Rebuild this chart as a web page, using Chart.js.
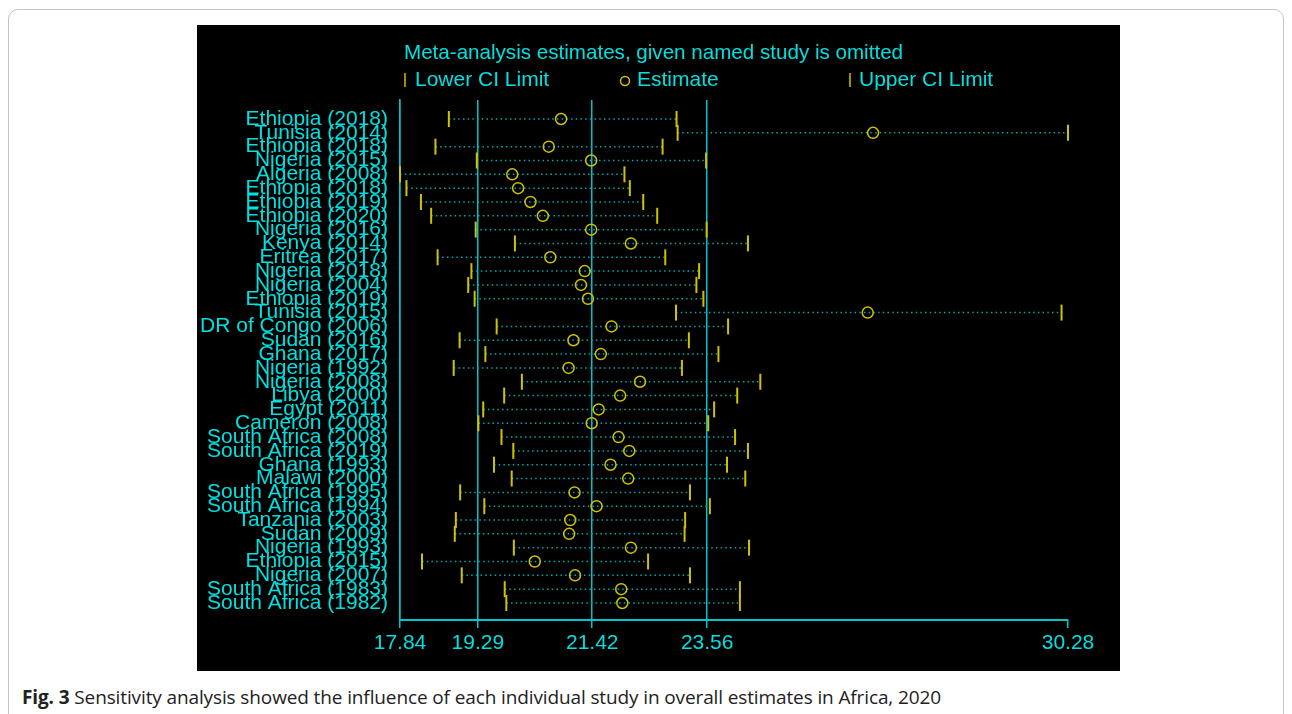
<!DOCTYPE html>
<html>
<head>
<meta charset="utf-8">
<script src="https://cdn.jsdelivr.net/npm/chart.js@4.4.1/dist/chart.umd.min.js"></script>
<style>
  html, body { margin: 0; padding: 0; background: #fff; }
  body { width: 1292px; height: 714px; position: relative; overflow: hidden; }
  .frame {
    position: absolute; left: 8px; top: 9px; width: 1274px; height: 730px;
    border: 1px solid #c4c4c4; border-radius: 10px;
  }
  .panel {
    position: absolute; left: 197px; top: 25px; width: 923px; height: 646px;
    background: #000;
  }
  .caption {
    position: absolute; left: 22px; top: 684px;
    font-family: "Open Sans", sans-serif; font-size: 19px; color: #222;
    white-space: nowrap; letter-spacing: -0.12px;
  }
  .caption b { font-weight: 700; }
</style>
</head>
<body>
<div class="frame"></div>
<div class="panel"><canvas id="sens-chart"></canvas></div>
<div class="caption"><b>Fig. 3</b> Sensitivity analysis showed the influence of each individual study in overall estimates in Africa, 2020</div>

<script>
// studies, top to bottom
const studies = [
    'Ethiopia (2018)', 'Tunisia (2014)', 'Ethiopia (2018)', 'Nigeria (2015)', 'Algeria (2008)',
    'Ethiopia (2018)', 'Ethiopia (2019)', 'Ethiopia (2020)', 'Nigeria (2016)', 'Kenya (2014)',
    'Eritrea (2017)', 'Nigeria (2018)', 'Nigeria (2004)', 'Ethiopia (2019)', 'Tunisia (2015)',
    'DR of Congo (2006)', 'Sudan (2016)', 'Ghana (2017)', 'Nigeria (1992)', 'Nigeria (2008)',
    'Libya (2000)', 'Egypt (2011)', 'Cameron (2008)', 'South Africa (2008)', 'South Africa (2019)',
    'Ghana (1993)', 'Malawi (2000)', 'South Africa (1995)', 'South Africa (1994)', 'Tanzania (2003)',
    'Sudan (2009)', 'Nigeria (1993)', 'Ethiopia (2015)', 'Nigeria (2007)', 'South Africa (1983)',
    'South Africa (1982)'
];
const lowerCI = [
    18.75, 23.01, 18.50, 19.27, 17.84, 17.96, 18.23, 18.42, 19.25, 19.98,
    18.54, 19.17, 19.11, 19.23, 22.98, 19.64, 18.95, 19.43, 18.84, 20.11,
    19.78, 19.39, 19.30, 19.73, 19.95, 19.59, 19.92, 18.96, 19.41, 18.88,
    18.86, 19.96, 18.25, 18.99, 19.79, 19.82
];
const estimate = [
    20.84, 26.65, 20.61, 21.40, 19.93, 20.04, 20.27, 20.50, 21.40, 22.14,
    20.64, 21.28, 21.21, 21.34, 26.55, 21.78, 21.07, 21.58, 20.98, 22.31,
    21.94, 21.54, 21.41, 21.91, 22.11, 21.76, 22.09, 21.09, 21.50, 21.01,
    20.99, 22.14, 20.35, 21.10, 21.96, 21.98
];
const upperCI = [
    22.99, 30.28, 22.73, 23.54, 22.02, 22.12, 22.37, 22.63, 23.55, 24.32,
    22.78, 23.41, 23.36, 23.49, 30.16, 23.95, 23.22, 23.77, 23.09, 24.55,
    24.12, 23.69, 23.58, 24.08, 24.32, 23.93, 24.27, 23.24, 23.61, 23.15,
    23.14, 24.34, 22.46, 23.24, 24.17, 24.17
];
const xTicks = [17.84, 19.29, 21.42, 23.56, 30.28];

const CYAN = '#00e0e0';
const LINE_CYAN = '#00c4cc';
const DOT_CYAN = '#00a8ac';
const YELLOW = '#cfc300';
const FONT = '"Liberation Sans", Arial, sans-serif';

// dotted CI segments, one dataset with gaps between rows
const ciSegments = [];
studies.forEach((s, i) => {
    ciSegments.push({ x: lowerCI[i], y: i });
    ciSegments.push({ x: upperCI[i], y: i });
    ciSegments.push({ x: null, y: null });
});

// title + legend drawn at fixed spots like the original
const headerPlugin = {
    id: 'header',
    afterDraw(chart) {
        const ctx = chart.ctx;
        ctx.save();
        ctx.fillStyle = CYAN;
        ctx.font = '20.6px ' + FONT;
        ctx.textBaseline = 'middle';
        ctx.textAlign = 'left';
        ctx.fillText('Meta-analysis estimates, given named study is omitted', 207, 28);

        const ly = 55;
        ctx.font = '21px ' + FONT;
        ctx.strokeStyle = YELLOW;
        ctx.lineWidth = 1.5;
        // lower marker
        ctx.beginPath(); ctx.moveTo(208, ly - 7); ctx.lineTo(208, ly + 7); ctx.stroke();
        ctx.fillText('Lower CI Limit', 218, ly);
        // estimate marker
        ctx.beginPath(); ctx.arc(428, ly + 1, 4.5, 0, Math.PI * 2); ctx.stroke();
        ctx.fillText('Estimate', 440, ly);
        // upper marker
        ctx.beginPath(); ctx.moveTo(653, ly - 7); ctx.lineTo(653, ly + 7); ctx.stroke();
        ctx.fillText('Upper CI Limit', 662, ly);
        ctx.restore();
    }
};

const ctx = document.getElementById('sens-chart').getContext('2d');
new Chart(ctx, {
    type: 'scatter',
    data: {
        datasets: [
            {
                label: 'CI',
                data: ciSegments,
                showLine: true,
                spanGaps: false,
                borderColor: DOT_CYAN,
                borderWidth: 1.5,
                borderDash: [1.5, 3.2],
                pointRadius: 0,
                order: 4
            },
            {
                label: 'Lower CI Limit',
                data: lowerCI.map((v, i) => ({ x: v, y: i })),
                pointStyle: 'line',
                rotation: 90,
                pointRadius: 8,
                borderColor: YELLOW,
                borderWidth: 2,
                order: 2
            },
            {
                label: 'Estimate',
                data: estimate.map((v, i) => ({ x: v, y: i })),
                pointStyle: 'circle',
                pointRadius: 5.5,
                borderColor: YELLOW,
                backgroundColor: 'transparent',
                borderWidth: 1.5,
                order: 1
            },
            {
                label: 'Upper CI Limit',
                data: upperCI.map((v, i) => ({ x: v, y: i })),
                pointStyle: 'line',
                rotation: 90,
                pointRadius: 8,
                borderColor: YELLOW,
                borderWidth: 2,
                order: 3
            }
        ]
    },
    options: {
        responsive: true,
        maintainAspectRatio: false,
        animation: false,
        clip: false,
        layout: { padding: { top: 75, right: 52, left: 0, bottom: 0 } },
        plugins: {
            legend: { display: false },
            tooltip: { enabled: false }
        },
        scales: {
            x: {
                type: 'linear',
                min: 17.84,
                max: 30.28,
                afterBuildTicks: (scale) => { scale.ticks = xTicks.map(v => ({ value: v })); },
                afterFit: (scale) => { scale.height = 51; },
                grid: {
                    color: (c) => (c.tick && c.tick.value === 30.28 ? 'transparent' : LINE_CYAN),
                    lineWidth: 1.5,
                    tickColor: LINE_CYAN,
                    tickLength: 8
                },
                border: { color: LINE_CYAN, width: 2 },
                ticks: {
                    color: CYAN,
                    font: { family: FONT, size: 21 },
                    padding: 3,
                    maxRotation: 0,
                    autoSkip: false,
                    callback: (v) => v.toFixed(2)
                }
            },
            y: {
                type: 'linear',
                reverse: true,
                min: -1.374,
                max: 36.229,
                afterBuildTicks: (scale) => { scale.ticks = studies.map((s, i) => ({ value: i })); },
                afterFit: (scale) => { scale.width = 203; },
                grid: { display: false, drawTicks: false },
                border: { color: LINE_CYAN, width: 1.5 },
                ticks: {
                    color: CYAN,
                    font: { family: FONT, size: 21 },
                    padding: 12,
                    autoSkip: false,
                    callback: (v) => studies[v]
                }
            }
        }
    },
    plugins: [headerPlugin]
});
</script>
</body>
</html>
